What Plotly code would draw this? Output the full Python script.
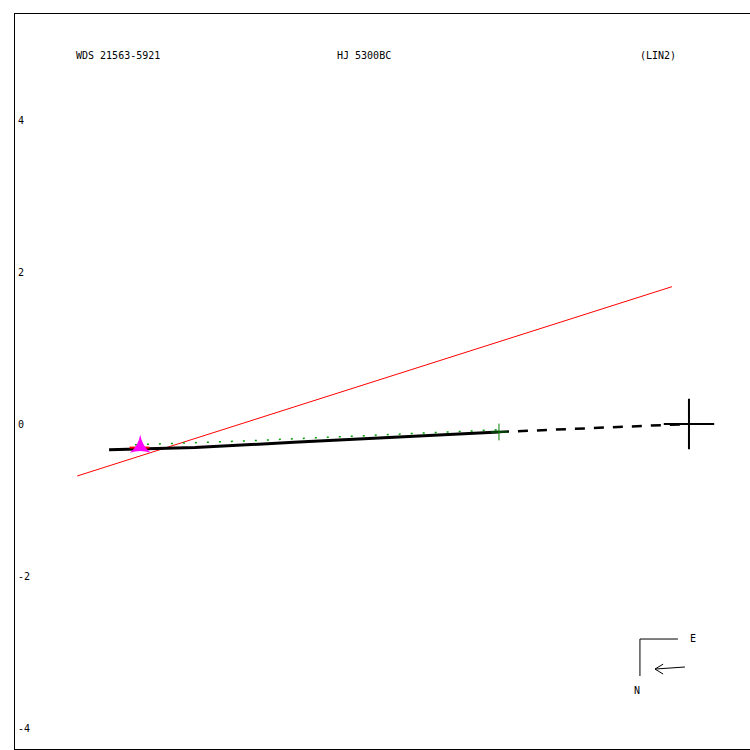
import plotly.graph_objects as go

# ---- data (arcsec offsets; x increases to the East = leftwards) ----
red_x = [8.05, 0.224]
red_y = [-0.684, 1.807]

solid_x = [7.63, 6.5, 5.2, 4.0, 2.50]
solid_y = [-0.338, -0.31, -0.24, -0.18, -0.105]

dash_x = [2.50, 0.0]
dash_y = [-0.105, 0.0]

green_dot_x = [7.29, 5.78, 2.50]
green_dot_y = [-0.303, -0.25, -0.105]

green_cross_x = [2.50]
green_cross_y = [-0.105]

obs_x = [7.22]
obs_y = [-0.30]
resid_x = [7.36, 7.10]
resid_y = [-0.31, -0.31]

primary_x = [0.0]
primary_y = [0.0]

compass_x = [0.145, 0.645, 0.645]
compass_y = [-2.829, -2.829, -3.316]
arrow_x = [0.053, 0.25, 0.447]
arrow_y = [-3.197, -3.21, -3.224]
arrowhead_x = [0.34, 0.447, 0.34]
arrowhead_y = [-3.16, -3.224, -3.29]
label_E = (0.013, -2.816)
label_N = (0.684, -3.50)

ytick_vals = [-4, -2, 0, 2, 4]
ytick_text = ["-4", "-2", "0", "2", "4"]

x_range = [8.868, -0.803]
y_range = [-4.276, 5.395]

FONT = "DejaVu Sans Mono"

fig = go.Figure()
fig.add_trace(go.Scatter(x=red_x, y=red_y, mode="lines",
                         line=dict(color="red", width=1)))
fig.add_trace(go.Scatter(x=green_dot_x, y=[v + 0.03 for v in green_dot_y], mode="lines",
                         line=dict(color="#00a000", width=1.5, dash="2px,10px")))
fig.add_trace(go.Scatter(x=solid_x, y=solid_y, mode="lines",
                         line=dict(color="black", width=3)))
fig.add_trace(go.Scatter(x=dash_x, y=dash_y, mode="lines",
                         line=dict(color="black", width=2.5, dash="10px,9px")))
fig.add_trace(go.Scatter(x=green_cross_x, y=green_cross_y, mode="markers",
                         marker=dict(symbol="cross-thin", size=12,
                                     line=dict(color="green", width=1))))
fig.add_trace(go.Scatter(x=resid_x, y=resid_y, mode="lines",
                         line=dict(color="red", width=2)))
fig.add_trace(go.Scatter(x=obs_x, y=obs_y, mode="markers",
                         marker=dict(symbol="star-triangle-up", size=15, color="#ff00ff",
                                     line=dict(width=0))))
fig.add_trace(go.Scatter(x=primary_x, y=primary_y, mode="markers",
                         marker=dict(symbol="cross-thin", size=36,
                                     line=dict(color="black", width=2))))
fig.add_trace(go.Scatter(x=compass_x, y=compass_y, mode="lines",
                         line=dict(color="black", width=1)))
fig.add_trace(go.Scatter(x=arrow_x, y=arrow_y, mode="lines",
                         line=dict(color="black", width=1)))
fig.add_trace(go.Scatter(x=arrowhead_x, y=arrowhead_y, mode="lines",
                         line=dict(color="black", width=1)))

annots = [
    dict(x=label_E[0], y=label_E[1], xref="x", yref="y", text="E", showarrow=False,
         xanchor="left", yanchor="middle"),
    dict(x=label_N[0], y=label_N[1], xref="x", yref="y", text="N", showarrow=False,
         xanchor="center", yanchor="middle"),
    dict(x=(74 - 15) / 735, y=1 - (55 - 14) / 735, xref="paper", yref="paper",
         text="WDS 21563-5921", showarrow=False, xanchor="left", yanchor="middle"),
    dict(x=(335 - 15) / 735, y=1 - (55 - 14) / 735, xref="paper", yref="paper",
         text="HJ 5300BC", showarrow=False, xanchor="left", yanchor="middle"),
    dict(x=(638 - 15) / 735, y=1 - (55 - 14) / 735, xref="paper", yref="paper",
         text="(LIN2)", showarrow=False, xanchor="left", yanchor="middle"),
]

fig.update_layout(
    width=750, height=750,
    margin=dict(l=15, r=0, t=14, b=1),
    paper_bgcolor="white", plot_bgcolor="white",
    showlegend=False,
    hovermode=False,
    font=dict(family=FONT, size=10, color="black"),
    annotations=annots,
    xaxis=dict(range=x_range, showgrid=False, zeroline=False, showticklabels=False,
               ticks="", showline=True, mirror=True, linecolor="black", linewidth=1),
    yaxis=dict(range=y_range, showgrid=False, zeroline=False,
               tickvals=ytick_vals, ticktext=ytick_text, ticks="",
               ticklabelposition="inside", ticklabelstandoff=2,
               showline=True, mirror=False, linecolor="black", linewidth=1,
               tickfont=dict(family=FONT, size=10, color="black")),
)

fig.write_html(
    "out.html",
    config={"displayModeBar": False},
    post_script="document.body.style.margin='0';document.body.style.overflow='hidden';"
                "document.documentElement.style.overflow='hidden';",
)
